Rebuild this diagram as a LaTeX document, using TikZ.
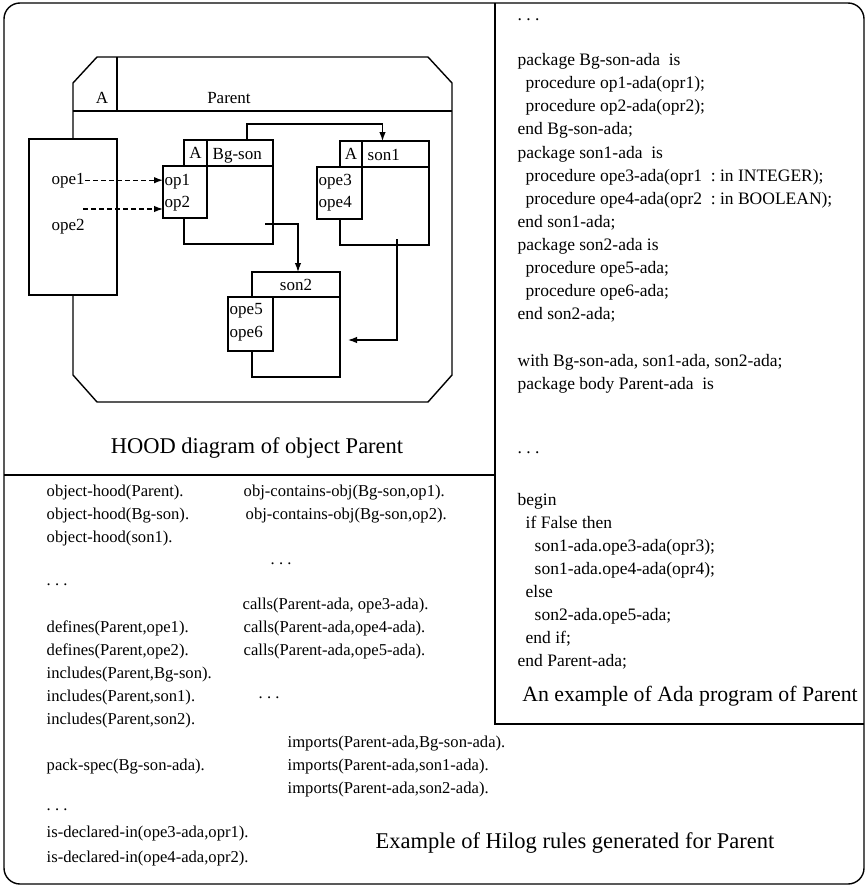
\documentclass[tikz,border=0pt]{standalone}
\usepackage{fontspec}
\setmainfont{Liberation Serif}
\usetikzlibrary{arrows.meta,calc}
\begin{document}
\begin{tikzpicture}[x=1pt,y=-1pt,
  line width=1.4pt,
  box/.style={draw, fill=white, rectangle, inner sep=0pt, outer sep=0pt, anchor=north west},
  lbl/.style={inner sep=0pt, font=\fontsize{17}{20}\selectfont},
  lblw/.style={lbl, anchor=base west},
  code/.style={anchor=base west, inner sep=0pt, font=\fontsize{17.5}{20}\selectfont},
  hilog/.style={anchor=base west, inner sep=0pt, font=\fontsize{16.6}{20}\selectfont},
  captxt/.style={anchor=base, inner sep=0pt, font=\fontsize{22.5}{26}\selectfont},
  arr/.style={-{Latex[length=9pt,width=6.5pt]}, line width=1.2pt},
  darr/.style={arr, dash pattern=on 5pt off 3pt},
]
\useasboundingbox (0,0) rectangle (867,888);

% frames
\draw[rounded corners=16pt] (4,3) rectangle (864,884);
\draw (495,3) -- (495,724) -- (864,724);
\draw (4,475) -- (495,475);

% Parent object
\draw (97,57) -- (428,57) -- (452,83) -- (452,375) -- (428,402) -- (97,402) -- (73,375) -- (73,83) -- cycle;
\draw (73,111) -- (452,111);
\draw (117,57) -- (117,111);
\node[lbl] (pA) at (102,98) {A};
\node[lbl] (pname) at (229,98) {Parent};

% provided operations of Parent
\node[box, minimum width=88, minimum height=156] (opebox) at (29,139) {};
\node[lblw] (ope1) at (51,184) {ope1};
\node[lblw] (ope2) at (51,230) {ope2};

% Bg-son
\node[box, minimum width=89, minimum height=78] (bgbody) at (184,166) {};
\node[box, minimum width=23, minimum height=26, font=\fontsize{17}{20}\selectfont] (bgA) at (184,140) {A};
\node[box, minimum width=66, minimum height=26] (bgname) at (207,140) {};
\node[lblw] (bgtxt) at (212,159) {Bg-son};
\node[box, minimum width=44, minimum height=52] (bgops) at (163,166) {};
\node[lblw] (op1) at (164,185) {op1};
\node[lblw] (op2) at (164,207) {op2};

% son1
\node[box, minimum width=89, minimum height=78] (s1body) at (340,167) {};
\node[box, minimum width=22, minimum height=26, font=\fontsize{17}{20}\selectfont] (s1A) at (340,141) {A};
\node[box, minimum width=67, minimum height=26] (s1name) at (362,141) {};
\node[lblw] (s1txt) at (367,160) {son1};
\node[box, minimum width=45, minimum height=52] (s1ops) at (317,167) {};
\node[lblw] (ope3) at (318,185) {ope3};
\node[lblw] (ope4) at (318,207) {ope4};

% son2
\node[box, minimum width=88, minimum height=80] (s2body) at (252,297) {};
\node[box, minimum width=88, minimum height=25, font=\fontsize{17}{20}\selectfont] (s2head) at (252,272) {son2};
\node[box, minimum width=45, minimum height=54] (s2ops) at (228,297) {};
\node[lblw] (ope5) at (229,314) {ope5};
\node[lblw] (ope6) at (229,337) {ope6};

% connectors
\draw[arr] ([xshift=7]bgname.north) -- ++(0,-16) -| ([xshift=-13]s1name.north);
\coordinate (c2) at (265,224);
\draw[arr] (c2) -| ([xshift=2]s2head.north);
\coordinate (c3) at (397,239);
\coordinate (c3e) at (348,340);
\draw[arr] (c3) |- (c3e);
\draw[darr] (ope1.east) -- (ope1.east -| bgops.west);
\coordinate (d2) at (83,209);
\draw[darr] (d2) -- (d2 -| bgops.west);

\node[captxt] (hoodcap) at (257,453) {HOOD diagram of object Parent};

% Ada program
\node[code] (a0) at (517,21) {.\ .\ .};
\node[code] (a1) at (517,66) {package Bg-son-ada\ \ is};
\node[code] (a2) at (525,89) {procedure op1-ada(opr1);};
\node[code] (a3) at (525,112) {procedure op2-ada(opr2);};
\node[code] (a4) at (517,135) {end Bg-son-ada;};
\node[code] (a5) at (517,158) {package son1-ada\ \ is};
\node[code] (a6) at (525,181) {procedure ope3-ada(opr1\ \ :\ in INTEGER);};
\node[code] (a7) at (525,204) {procedure ope4-ada(opr2\ \ :\ in BOOLEAN);};
\node[code] (a8) at (517,227) {end son1-ada;};
\node[code] (a9) at (517,250) {package son2-ada is};
\node[code] (a10) at (525,273) {procedure ope5-ada;};
\node[code] (a11) at (525,296) {procedure ope6-ada;};
\node[code] (a12) at (517,319) {end son2-ada;};
\node[code] (a13) at (517,366) {with Bg-son-ada, son1-ada, son2-ada;};
\node[code] (a14) at (517,389) {package body Parent-ada\ \ is};
\node[code] (a15) at (517,453) {.\ .\ .};
\node[code] (a16) at (517,505) {begin};
\node[code] (a17) at (525,528) {if False then};
\node[code] (a18) at (534,551) {son1-ada.ope3-ada(opr3);};
\node[code] (a19) at (534,574) {son1-ada.ope4-ada(opr4);};
\node[code] (a20) at (525,597) {else};
\node[code] (a21) at (534,620) {son2-ada.ope5-ada;};
\node[code] (a22) at (525,643) {end if;};
\node[code] (a23) at (517,666) {end Parent-ada;};
\node[captxt, font=\fontsize{21.8}{26}\selectfont] (adacap) at (690,701) {An example of Ada program of Parent};

% Hilog rules
\node[hilog] (h1) at (46,496) {object-hood(Parent).};
\node[hilog] (h2) at (46,519) {object-hood(Bg-son).};
\node[hilog] (h3) at (46,542) {object-hood(son1).};
\node[hilog] (h4) at (46,585) {.\ .\ .};
\node[hilog] (h5) at (46,632) {defines(Parent,ope1).};
\node[hilog] (h6) at (46,655) {defines(Parent,ope2).};
\node[hilog] (h7) at (46,678) {includes(Parent,Bg-son).};
\node[hilog] (h8) at (46,701) {includes(Parent,son1).};
\node[hilog] (h9) at (46,724) {includes(Parent,son2).};
\node[hilog] (h10) at (46,770) {pack-spec(Bg-son-ada).};
\node[hilog] (h11) at (46,810) {.\ .\ .};
\node[hilog] (h12) at (46,837) {is-declared-in(ope3-ada,opr1).};
\node[hilog] (h13) at (46,862) {is-declared-in(ope4-ada,opr2).};

\node[hilog] (k1) at (243,496) {obj-contains-obj(Bg-son,op1).};
\node[hilog] (k2) at (245,519) {obj-contains-obj(Bg-son,op2).};
\node[hilog] (k3) at (270,564) {.\ .\ .};
\node[hilog] (k4) at (242,609) {calls(Parent-ada, ope3-ada).};
\node[hilog] (k5) at (243,632) {calls(Parent-ada,ope4-ada).};
\node[hilog] (k6) at (243,655) {calls(Parent-ada,ope5-ada).};
\node[hilog] (k7) at (258,698) {.\ .\ .};
\node[hilog] (k8) at (287,747) {imports(Parent-ada,Bg-son-ada).};
\node[hilog] (k9) at (287,770) {imports(Parent-ada,son1-ada).};
\node[hilog] (k10) at (287,793) {imports(Parent-ada,son2-ada).};
\node[captxt] (hilogcap) at (575,848) {Example of Hilog rules generated for Parent};
\end{tikzpicture}
\end{document}
